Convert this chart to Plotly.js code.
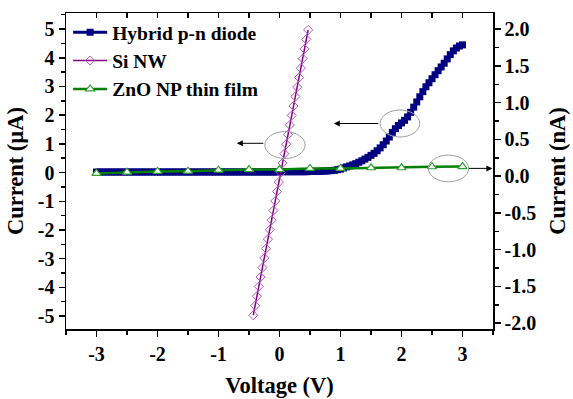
<!DOCTYPE html>
<html>
<head>
<meta charset="utf-8">
<script src="https://cdn.plot.ly/plotly-3.0.1.min.js"></script>
<style>html,body{margin:0;padding:0;background:#fff;}#chart{width:573px;height:399px;}</style>
</head>
<body>
<div id="chart"></div>
<script>
// ---- Data ----
const hybridV = [
 -3.00,-2.95,-2.90,-2.85,-2.80,-2.75,-2.70,-2.65,-2.60,-2.55,-2.50,-2.45,-2.40,-2.35,-2.30,-2.25,-2.20,-2.15,-2.10,-2.05,
 -2.00,-1.95,-1.90,-1.85,-1.80,-1.75,-1.70,-1.65,-1.60,-1.55,-1.50,-1.45,-1.40,-1.35,-1.30,-1.25,-1.20,-1.15,-1.10,-1.05,
 -1.00,-0.95,-0.90,-0.85,-0.80,-0.75,-0.70,-0.65,-0.60,-0.55,-0.50,-0.45,-0.40,-0.35,-0.30,-0.25,-0.20,-0.15,-0.10,-0.05,
 0.00,0.05,0.10,0.15,0.20,0.25,0.30,0.35,0.40,0.45,0.50,0.55,0.60,0.65,0.70,0.75,0.80,0.85,0.90,0.95,
 1.00,1.05,1.10,1.15,1.20,1.25,1.30,1.35,1.40,1.45,1.50,1.55,1.60,1.65,1.70,1.75,1.80,1.85,1.90,1.95,
 2.00,2.05,2.10,2.15,2.20,2.25,2.30,2.35,2.40,2.45,2.50,2.55,2.60,2.65,2.70,2.75,2.80,2.85,2.90,2.95,3.00
];
const hybridI = [
 0.02,0.02,0.02,0.02,0.02,0.02,0.02,0.02,0.02,0.02,0.02,0.02,0.02,0.02,0.02,0.02,0.02,0.02,0.02,0.02,
 0.02,0.02,0.02,0.02,0.02,0.02,0.02,0.02,0.02,0.02,0.02,0.02,0.02,0.02,0.02,0.02,0.02,0.02,0.02,0.02,
 0.02,0.02,0.02,0.02,0.02,0.02,0.02,0.02,0.02,0.02,0.02,0.02,0.02,0.02,0.02,0.02,0.02,0.02,0.02,0.02,
 0.03,0.03,0.03,0.03,0.03,0.03,0.03,0.03,0.03,0.03,0.04,0.04,0.04,0.04,0.05,0.05,0.06,0.07,0.08,0.10,
 0.12,0.16,0.20,0.23,0.27,0.31,0.36,0.41,0.47,0.53,0.60,0.67,0.76,0.86,0.97,1.10,1.24,1.40,1.53,1.64,
 1.73,1.82,1.94,2.10,2.28,2.46,2.64,2.82,2.99,3.13,3.27,3.41,3.55,3.68,3.81,3.96,4.11,4.24,4.34,4.41,4.45
];

const siV = [-0.43,-0.40,-0.37,-0.34,-0.31,-0.28,-0.25,-0.22,-0.19,-0.16,-0.13,-0.10,-0.07,-0.04,-0.01,
             0.02,0.05,0.08,0.11,0.14,0.17,0.20,0.23,0.26,0.29,0.32,0.35,0.38,0.41,0.44,0.47];
const siI = [-4.97,-4.64,-4.31,-3.97,-3.64,-3.31,-2.98,-2.65,-2.32,-1.99,-1.66,-1.32,-0.99,-0.66,-0.33,
             0.00,0.33,0.66,0.99,1.32,1.66,1.99,2.32,2.65,2.98,3.31,3.64,3.97,4.31,4.64,4.97];

const znoV = [-3.0,-2.5,-2.0,-1.5,-1.0,-0.5,0.0,0.5,1.0,1.5,2.0,2.5,3.0];
const znoI = [0.037,0.054,0.064,0.068,0.082,0.090,0.090,0.105,0.105,0.114,0.114,0.128,0.130]; // nA

const seriesNames = ['Hybrid p-n diode','Si NW','ZnO NP thin film'];

const xTickVals = [-3,-2,-1,0,1,2,3];
const xTickText = ['-3','-2','-1','0','1','2','3'];
const yTickVals = [-5,-4,-3,-2,-1,0,1,2,3,4,5];
const yTickText = ['-5','-4','-3','-2','-1','0','1','2','3','4','5'];
const y2TickVals = [-2,-1.5,-1,-0.5,0,0.5,1,1.5,2];
const y2TickText = ['-2.0','-1.5','-1.0','-0.5','0.0','0.5','1.0','1.5','2.0'];

// ---- Styling ----
const SERIF = 'Liberation Serif';
function tf() { return {family: SERIF, size: 20, color: '#000', weight: 'bold'}; }
function ttf() { return {family: SERIF, size: 22.5, color: '#000', weight: 'bold'}; }

const traces = [
  {
    x: hybridV, y: hybridI, name: seriesNames[0], type: 'scatter', mode: 'lines+markers',
    line: {color: '#000080', width: 3},
    marker: {symbol: 'square', size: 7, color: '#000080'},
    legendgroup: 'a', xaxis: 'x', yaxis: 'y'
  },
  {
    x: siV, y: siI, name: seriesNames[1], type: 'scatter', mode: 'lines+markers',
    line: {color: '#800080', width: 1.5},
    marker: {symbol: 'diamond-open', size: 7, color: '#b450c8', line: {width: 1, color: '#b450c8'}},
    legendgroup: 'b', xaxis: 'x', yaxis: 'y'
  },
  {
    x: znoV, y: znoI, name: seriesNames[2], type: 'scatter', mode: 'lines+markers',
    line: {color: '#008000', width: 2.5},
    marker: {symbol: 'triangle-up', size: 8, color: '#ffffff', line: {width: 1.2, color: '#30a030'}},
    legendgroup: 'c', xaxis: 'x', yaxis: 'y2'
  },
  { x: [], y: [], xaxis: 'x2', yaxis: 'y', showlegend: false, hoverinfo: 'skip', type: 'scatter' }
];

function axisBase() {
  return {showgrid: false, zeroline: false, showline: true, linecolor: '#000', linewidth: 1.5,
          tickcolor: '#000', tickwidth: 1.5, tickfont: tf()};
}

function ell(x0, x1, y0, y1) {
  return {type: 'circle', xref: 'x', yref: 'y', x0: x0, x1: x1, y0: y0, y1: y1,
          line: {color: '#a0a0a0', width: 1}, fillcolor: 'rgba(0,0,0,0)'};
}
function arrow(x, y, ax) {
  return {x: x, y: y, xref: 'x', yref: 'y', text: '', showarrow: true, ax: ax, ay: 0,
          arrowhead: 2, arrowsize: 1.2, arrowwidth: 1, arrowcolor: '#000'};
}

const layout = {
  width: 573, height: 399,
  margin: {l: 66, r: 80, t: 13, b: 70, pad: 0},
  paper_bgcolor: '#fff', plot_bgcolor: '#fff',
  font: {family: SERIF, color: '#000', size: 19, weight: 'bold'},
  showlegend: true,
  legend: {x: 0.005, y: 1.0, xanchor: 'left', yanchor: 'top', bgcolor: 'rgba(0,0,0,0)',
           font: {family: SERIF, size: 19.5, color: '#000', weight: 'bold'}, tracegroupgap: 0, itemwidth: 34},
  xaxis: Object.assign(axisBase(), {
    range: [-3.5, 3.5], tickmode: 'array', tickvals: xTickVals, ticktext: xTickText,
    ticks: 'outside', ticklen: 6,
    minor: {tickmode: 'linear', tick0: 0, dtick: 0.5, ticks: 'outside', ticklen: 4, tickcolor: '#000', tickwidth: 1.5},
    title: {text: 'Voltage (V)', font: ttf(), standoff: 13}
  }),
  xaxis2: Object.assign(axisBase(), {
    range: [-3.5, 3.5], overlaying: 'x', side: 'top', anchor: 'y',
    tickmode: 'linear', tick0: 0, dtick: 0.5, ticks: 'inside', ticklen: 5, showticklabels: false
  }),
  yaxis: Object.assign(axisBase(), {
    range: [-5.45, 5.56], tickmode: 'array', tickvals: yTickVals, ticktext: yTickText,
    ticks: 'outside', ticklen: 6,
    minor: {tickmode: 'linear', tick0: 0, dtick: 0.5, ticks: 'outside', ticklen: 4, tickcolor: '#000', tickwidth: 1.5},
    title: {text: 'Current (\u00B5A)', font: ttf(), standoff: 8}
  }),
  yaxis2: Object.assign(axisBase(), {
    range: [-2.08, 2.22], overlaying: 'y', side: 'right', anchor: 'x',
    tickmode: 'array', tickvals: y2TickVals, ticktext: y2TickText,
    ticks: 'outside', ticklen: 6,
    minor: {tickmode: 'linear', tick0: 0, dtick: 0.25, ticks: 'outside', ticklen: 4, tickcolor: '#000', tickwidth: 1.5},
    title: {text: 'Current (nA)', font: ttf(), standoff: 14}
  }),
  shapes: [
    ell(-0.24, 0.42, 0.49, 1.43),
    ell(1.65, 2.30, 1.24, 2.18),
    ell(2.44, 3.10, -0.32, 0.61)
  ],
  annotations: [
    arrow(-0.70, 1.02, 28),
    arrow(0.89, 1.71, 46),
    arrow(3.49, 0.146, -25)
  ]
};

Plotly.newPlot('chart', traces, layout, {staticPlot: true, displayModeBar: false});
</script>
</body>
</html>
